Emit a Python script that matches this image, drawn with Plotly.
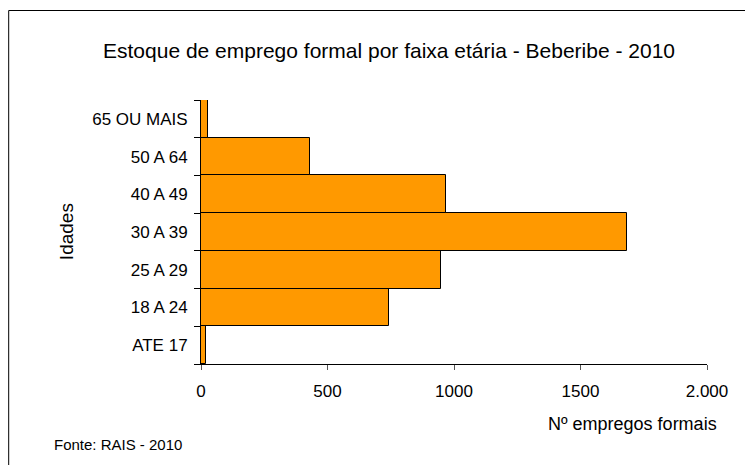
import plotly.graph_objects as go

faixas = ["ATE 17", "18 A 24", "25 A 29", "30 A 39", "40 A 49", "50 A 64", "65 OU MAIS"]
empregos = [20, 742, 947, 1682, 969, 430, 29]
x_ticks = [0, 500, 1000, 1500, 2000]
x_tick_labels = ["0", "500", "1000", "1500", "2.000"]

FONT = "Liberation Sans, Arial, sans-serif"
W, H = 753, 465
OFF = 8  # page body margin: figure is drawn 8px in from the window corner

# target plot area in window pixels: x 201..707.5, y 100..364
L = 201 - OFF
R = W - (707.5 - OFF)
T = 100 - OFF
B = H - (364 - OFF)
PW, PH = W - L - R, H - T - B


def px_x(px):
    return (px - OFF - L) / PW


def px_y(py):
    return (H - B - (py - OFF)) / PH


fig = go.Figure(
    go.Bar(
        x=empregos,
        y=faixas,
        orientation="h",
        marker=dict(color="#FF9900", line=dict(color="#000000", width=1)),
        hovertemplate="%{y}: %{x}<extra></extra>",
    )
)

fig.update_layout(
    width=W,
    height=H,
    margin=dict(l=L, r=R, t=T, b=B, autoexpand=False),
    paper_bgcolor="#ffffff",
    plot_bgcolor="#ffffff",
    bargap=0,
    showlegend=False,
    font=dict(family=FONT, color="#000000"),
    title=dict(
        text="Estoque de emprego formal por faixa etária - Beberibe - 2010",
        font=dict(size=21, family=FONT, color="#000000"),
        xref="container",
        yref="container",
        x=(389 - OFF) / W,
        xanchor="center",
        y=1 - (50.5 - OFF) / H,
        yanchor="middle",
    ),
    xaxis=dict(
        range=[0, 2000],
        tickvals=x_ticks,
        ticktext=x_tick_labels,
        ticks="outside",
        ticklen=5,
        tickcolor="#555555",
        tickfont=dict(size=17, family=FONT),
        showline=True,
        linecolor="#000000",
        linewidth=1,
        showgrid=False,
        zeroline=False,
        fixedrange=True,
        ticklabelstandoff=7,
    ),
    yaxis=dict(
        type="category",
        ticks="outside",
        tickson="boundaries",
        ticklen=6,
        tickcolor="#000000",
        tickfont=dict(size=17, family=FONT),
        showline=True,
        linecolor="#000000",
        linewidth=1,
        showgrid=False,
        zeroline=False,
        fixedrange=True,
        ticklabelstandoff=9,
    ),
    annotations=[
        dict(
            text="Idades", textangle=-90, showarrow=False,
            xref="paper", yref="paper", x=px_x(66), y=px_y(232),
            xanchor="center", yanchor="middle", font=dict(size=19),
        ),
        dict(
            text="Nº empregos formais", showarrow=False,
            xref="paper", yref="paper", x=px_x(720), y=px_y(424),
            xanchor="right", yanchor="middle", font=dict(size=18),
        ),
        dict(
            text="Fonte: RAIS - 2010", showarrow=False,
            xref="paper", yref="paper", x=px_x(52), y=px_y(444.5),
            xanchor="left", yanchor="middle", font=dict(size=15),
        ),
    ],
    shapes=[
        dict(
            type="rect", xref="paper", yref="paper",
            x0=px_x(8.5), y0=px_y(520), x1=px_x(800), y1=px_y(10.5),
            line=dict(color="#000000", width=1), layer="below",
        )
    ],
)

fig.write_html("out.html")
